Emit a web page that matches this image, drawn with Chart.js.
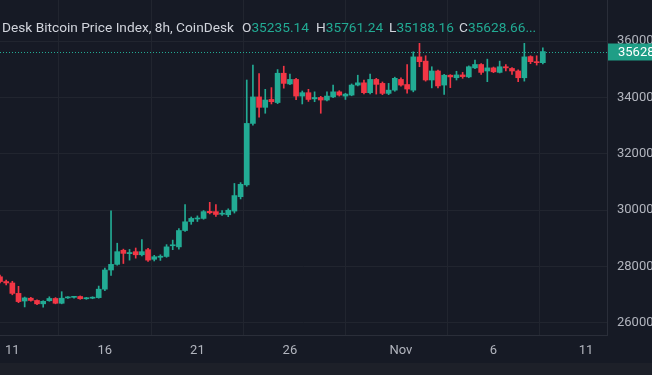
<!DOCTYPE html>
<html>
<head>
<meta charset="utf-8">
<script src="https://cdn.jsdelivr.net/npm/chart.js@4.4.0/dist/chart.umd.min.js"></script>
<style>
html,body{margin:0;padding:0;background:#161a25;overflow:hidden}
#wrap{position:relative;width:652px;height:375px}
canvas{display:block}
.hdr{position:absolute;top:19px;font-family:Roboto,"Noto Sans",sans-serif;font-size:13.7px;line-height:16px;color:#d1d4dc;white-space:nowrap}
.val{color:#22ab94}
</style>
</head>
<body>
<div id="wrap">
<canvas id="c" width="652" height="375"></canvas>
<div class="hdr" style="left:2px">Desk Bitcoin Price Index, 8h, CoinDesk</div>
<div class="hdr" id="hO" style="left:242px"></div>
<div class="hdr" id="hH" style="left:316px"></div>
<div class="hdr" id="hL" style="left:389px"></div>
<div class="hdr" id="hC" style="left:459px"></div>
</div>
<script>
// 8h candles, index 0 = 10 Oct 08:00 ... index 88 = 8 Nov 16:00
const opens = [27640,27470,27420,27050,26780,26880,26800,26680,26790,26870,
26700,26890,26910,26940,26860,26880,26900,27200,27880,28080,
28580,28460,28530,28420,28600,28260,28330,28360,28740,28700,
29280,29600,29690,29710,29960,29950,29860,29840,29970,30480,
30900,33080,34020,33650,33930,33820,34860,34480,34640,34050,
34170,33950,34000,33910,34020,34200,34050,34085,34440,34520,
34170,34640,34500,34145,34260,34640,34460,34260,35440,35290,
34620,34940,34440,34790,34700,34800,34730,35050,35170,34940,
35050,34890,35090,35030,34940,34700,35450,35270,35235.14];
const highs = [27700,27520,27480,27300,26920,26910,26820,26790,26930,26900,
27110,26940,26950,26960,26910,26930,27310,27950,29980,28830,
28620,28610,28660,28960,28650,28400,28420,28780,28940,29350,
30200,29760,29800,29990,30280,30200,29990,30050,30950,30980,
34620,35150,34850,34290,34350,34990,35110,34830,34680,34230,
34290,34200,34040,34200,34440,34240,34150,34480,34790,34620,
34830,34680,34550,34500,34720,34700,35170,35620,35920,35480,
35090,34970,34820,34810,34930,34890,35120,35330,35200,35360,
35080,35290,35170,35060,34980,35920,35480,35480,35761.24];
const lows = [27420,27350,27000,26720,26570,26770,26650,26560,26770,26680,
26680,26870,26880,26840,26840,26860,26880,27150,27690,28050,
28110,28230,28300,28380,28180,28200,28220,28330,28600,28620,
29250,29500,29600,29680,29870,29780,29820,29770,29900,30400,
30850,33020,33300,33440,33770,33780,34330,34450,33920,33770,
33860,33850,33440,33880,33990,34050,33930,34060,34410,34130,
34130,34120,34100,34100,34220,34400,34150,34200,35090,34580,
34340,34340,34110,34350,34620,34680,34700,35020,34820,34560,
34880,34870,34940,34820,34560,34580,35200,35150,35188.16];
const closes = [27470,27420,27050,26760,26890,26800,26680,26770,26870,26700,
26880,26910,26920,26860,26880,26900,27200,27880,28080,28530,
28470,28500,28420,28530,28230,28350,28370,28700,28770,29280,
29590,29710,29710,29950,29910,29850,29880,30000,30520,30920,
33080,34020,33650,33910,33850,34860,34500,34640,34050,34170,
33930,34000,33910,34050,34200,34085,34120,34440,34520,34170,
34640,34465,34145,34260,34680,34440,34300,35440,35270,34620,
34940,34410,34790,34730,34800,34740,35090,35170,34890,35050,
34910,35090,35050,34940,34700,35440,35270,35235.14,35628.66];

// day ticks (candle index of 00:00 candle) and their labels
const tickIndex = [2,17,32,47,65,80,95];
const tickLabels = ['11','16','21','26','Nov','6','11'];
const yTicks = [26000,28000,30000,32000,34000,36000];

const UP = '#22ab94', DOWN = '#f23645';
const BG = '#161a25', GRID = '#21252f', TXT = '#b2b5be';

const n = closes.length;
const fmt = v => v.toFixed(2);
document.getElementById('hO').innerHTML = 'O<span class="val">'+fmt(opens[n-1])+'</span>';
document.getElementById('hH').innerHTML = 'H<span class="val">'+fmt(highs[n-1])+'</span>';
document.getElementById('hL').innerHTML = 'L<span class="val">'+fmt(lows[n-1])+'</span>';
document.getElementById('hC').innerHTML = 'C<span class="val">'+fmt(closes[n-1])+'...</span>';

const colors = opens.map((o,i)=> closes[i] >= o ? UP : DOWN);
const wickData = opens.map((o,i)=>({x:i, y:[lows[i], highs[i]]}));
const bodyData = opens.map((o,i)=>({x:i, y:[o, closes[i]]}));

const bgPlugin = {
  id:'bg',
  beforeDraw(chart){
    const c = chart.ctx;
    c.save();
    c.fillStyle = BG;
    c.fillRect(0,0,chart.width,chart.height);
    c.fillStyle = '#1d2029';
    c.fillRect(0,363,chart.width,chart.height-363);
    c.restore();
  }
};
const pricePlugin = {
  id:'price',
  afterDraw(chart){
    const c = chart.ctx, ys = chart.scales.y, area = chart.chartArea;
    const last = closes[n-1];
    const py = Math.round(ys.getPixelForValue(last)) + 0.5;
    c.save();
    c.strokeStyle = UP;
    c.lineWidth = 1;
    c.setLineDash([1,2]);
    c.beginPath();
    c.moveTo(area.left, py);
    c.lineTo(area.right, py);
    c.stroke();
    c.setLineDash([]);
    c.fillStyle = '#1f9e86';
    c.fillRect(area.right+1, py-9, chart.width-area.right, 17);
    c.fillStyle = '#ffffff';
    c.font = '13px Roboto';
    c.textBaseline = 'middle';
    c.textAlign = 'left';
    c.fillText(fmt(last), area.right+11, py);
    c.restore();
  }
};

new Chart(document.getElementById('c'), {
  type:'bar',
  data:{datasets:[
    {data:wickData, backgroundColor:colors, barThickness:1, grouped:false, order:2},
    {data:bodyData, backgroundColor:colors, barThickness:5, grouped:false, minBarLength:1, order:1}
  ]},
  options:{
    responsive:false, animation:false, devicePixelRatio:1,
    layout:{padding:{left:0,right:0,top:0,bottom:12}},
    plugins:{legend:{display:false}, tooltip:{enabled:false}, title:{display:false}},
    scales:{
      x:{type:'linear', min:0, max:98.4, offset:false,
        afterFit:s=>{s.height=28; s.paddingLeft=0; s.paddingRight=0;},
        afterBuildTicks:s=>{s.ticks = tickIndex.map(v=>({value:v}));},
        ticks:{autoSkip:false, maxRotation:0, padding:8, color:TXT,
          font:{family:'Roboto', size:13},
          callback:(v,i)=>tickLabels[i]},
        grid:{color:GRID, drawTicks:false},
        border:{color:'#2a2e39'}
      },
      y:{position:'right', min:25574, max:37458,
        afterFit:s=>{s.width=45; s.paddingTop=0; s.paddingBottom=0;},
        afterBuildTicks:s=>{s.ticks = yTicks.map(v=>({value:v}));},
        ticks:{padding:10, color:TXT, font:{family:'Roboto', size:13}, callback:v=>String(v)},
        grid:{color:GRID, drawTicks:false},
        border:{color:'#2a2e39'}
      }
    }
  },
  plugins:[bgPlugin, pricePlugin]
});
</script>
</body>
</html>
